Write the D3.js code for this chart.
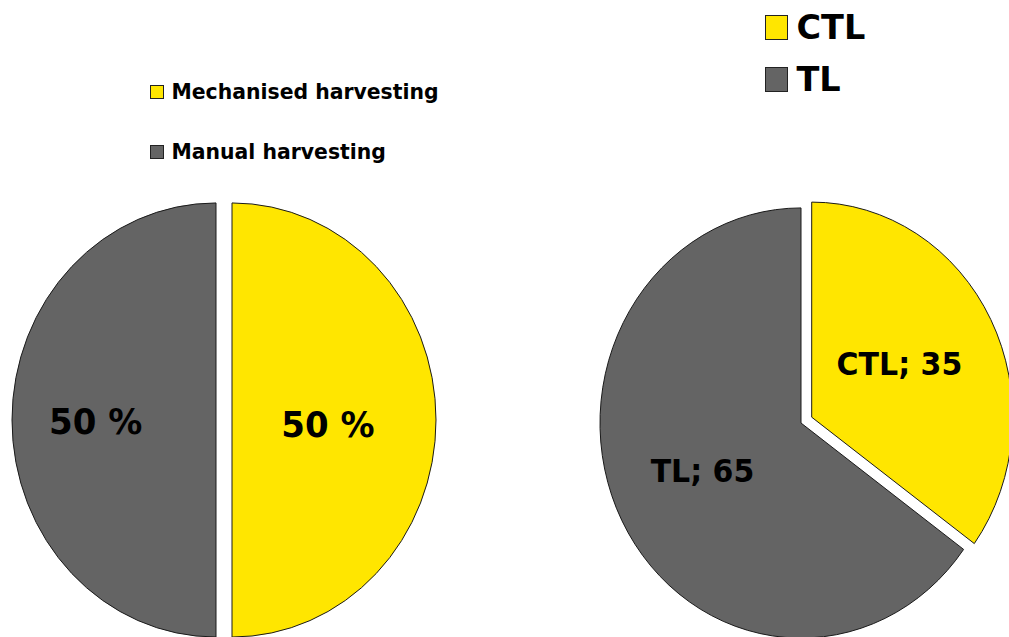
<!DOCTYPE html>
<html>
<head>
<meta charset="utf-8">
<script src="https://cdn.jsdelivr.net/npm/d3@7"></script>
<style>
  html, body { margin: 0; padding: 0; background: #fff; }
  svg { display: block; font-family: "DejaVu Sans", Verdana, sans-serif; font-weight: bold; }
</style>
</head>
<body>
<svg id="chart" width="1009" height="637"></svg>
<script>
// Harvesting method shares
const methodCategories = ["Mechanised harvesting", "Manual harvesting"];
const methodValues = [50, 50];

// Log-length system shares
const systemCategories = ["CTL", "TL"];
const systemValues = [35, 65];

const sliceColors = ["#FFE600", "#646464"];

const svg = d3.select("#chart");

function drawPie(cfg) {
  const pie = d3.pie().sort(null).value(d => d.value);
  const arcs = pie(cfg.categories.map((c, i) => ({ name: c, value: cfg.values[i] })));
  const arc = d3.arc().innerRadius(0).outerRadius(cfg.r);
  const color = d3.scaleOrdinal().domain(cfg.categories).range(sliceColors);

  const g = svg.append("g")
    .attr("transform", `translate(${cfg.cx},${cfg.cy}) scale(1,${cfg.ky})`);

  const slice = g.selectAll("g.slice").data(arcs).join("g")
    .attr("class", "slice")
    .attr("transform", (d, i) => {
      const off = cfg.explode[i];
      const mid = (d.startAngle + d.endAngle) / 2;
      return `translate(${Math.sin(mid) * off},${-Math.cos(mid) * off})`;
    });

  slice.append("path")
    .attr("d", arc)
    .attr("fill", d => color(d.data.name))
    .attr("stroke", "#1a1a1a")
    .attr("stroke-width", 1)
    .attr("vector-effect", "non-scaling-stroke");

  slice.append("text")
    .attr("transform", (d, i) => {
      const lr = cfg.r * cfg.labelFrac[i];
      const [x, y] = d3.arc().innerRadius(lr).outerRadius(lr).centroid(d);
      return `translate(${x},${y + cfg.labelDy[i]})`;
    })
    .attr("text-anchor", "middle")
    .attr("dominant-baseline", "central")
    .attr("font-size", cfg.labelSize)
    .attr("fill", "#000")
    .text(cfg.label);
}

drawPie({
  categories: methodCategories, values: methodValues,
  cx: 216, cy: 420, r: 204, ky: 1.064,
  explode: [16, 0], labelFrac: [0.47, 0.59], labelDy: [4, 1], labelSize: 34,
  label: d => `${d.data.value} %`
});

drawPie({
  categories: systemCategories, values: systemValues,
  cx: 801, cy: 423, r: 201, ky: 1.07,
  explode: [12, 0], labelFrac: [0.49, 0.55], labelDy: [-5, -6], labelSize: 30,
  label: d => `${d.data.name}; ${d.data.value}`
});

function drawLegend(cfg) {
  const color = d3.scaleOrdinal().domain(cfg.categories).range(sliceColors);
  const item = svg.append("g").selectAll("g").data(cfg.categories).join("g")
    .attr("transform", (d, i) => `translate(${cfg.x},${cfg.y + i * cfg.step})`);
  item.append("rect")
    .attr("x", 0).attr("y", -cfg.box[1] / 2)
    .attr("width", cfg.box[0]).attr("height", cfg.box[1])
    .attr("fill", d => color(d))
    .attr("stroke", "#222").attr("stroke-width", 1);
  item.append("text")
    .attr("x", cfg.box[0] + cfg.gap)
    .attr("y", 0)
    .attr("dominant-baseline", "central")
    .attr("font-size", cfg.size)
    .attr("fill", "#000")
    .text(d => d);
}

drawLegend({ categories: methodCategories, x: 150.5, y: 92, step: 60, box: [13, 13], gap: 8, size: 20.4 });
drawLegend({ categories: systemCategories, x: 765.5, y: 27.5, step: 52, box: [22, 24], gap: 9, size: 33.5 });
</script>
</body>
</html>
